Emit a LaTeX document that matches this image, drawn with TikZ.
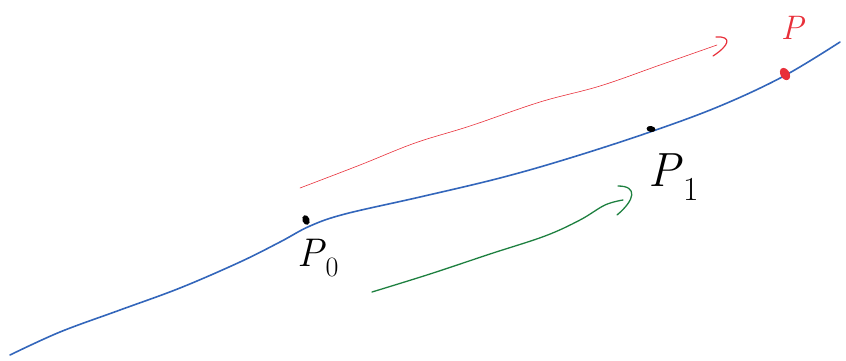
\documentclass[tikz,border=0pt]{standalone}
\usetikzlibrary{shapes.geometric}
\definecolor{penblue}{HTML}{3366BB}
\definecolor{penred}{HTML}{E8303A}
\definecolor{pengreen}{HTML}{1E8040}
\tikzset{
  curve/.style={line width=1.6pt, line cap=round, line join=round, color=penblue},
  redarrow/.style={line width=0.6pt, line cap=round, line join=round, color=penred},
  greenarrow/.style={line width=1.3pt, line cap=round, line join=round, color=pengreen},
  dotmark/.style={ellipse, fill=black, inner sep=0pt, minimum width=7pt, minimum height=10pt, rotate=20},
  lab/.style={inner sep=0pt}
}
\begin{document}
\begin{tikzpicture}[x=1pt,y=-1pt]
\useasboundingbox (0,0) rectangle (846,360);
% blue curve
\draw[curve] plot[smooth, tension=0.6] coordinates {(10,355) (60,332) (120,310) (180,288) (240,262) (280,242) (310,226) (345,214) (420,197) (500,178) (570,158) (650,132) (720,106) (784,76) (840,42)};
% red arrow
\coordinate (rs) at (300,188);
\coordinate (re) at (717,45);
\draw[redarrow] plot[smooth, tension=0.6] coordinates {(rs) (360,165) (415,143) (470,126) (540,102) (600,86) (660,65) (re)};
\coordinate (rh1) at (716,37);
\coordinate (rh2) at (713,56);
\draw[redarrow, line width=1.2pt] (rh1) .. controls (732,36) and (730,45) .. (rh2);
% green arrow
\coordinate (gs) at (372,292);
\coordinate (ge) at (623,200);
\draw[greenarrow] plot[smooth, tension=0.6] coordinates {(gs) (430,274) (490,254) (545,236) (580,220) (605,205) (ge)};
\coordinate (gh1) at (618,186);
\coordinate (gh2) at (617,215);
\draw[greenarrow] (gh1) .. controls (638,186) and (635,200) .. (gh2);
% points
\node[dotmark] (p0) at (306,220) {};
\node[dotmark, minimum width=6pt, minimum height=9pt, rotate=60] (p1) at (651,129) {};
\node[ellipse, fill=penred, inner sep=0pt, minimum width=9pt, minimum height=13pt, rotate=30] (p) at (785,74) {};
% labels
\node[lab, font=\fontsize{40}{40}\selectfont] (l0) at (318,258) {\textit{P}\textsubscript{0}};
\node[lab, font=\fontsize{48}{48}\selectfont] (l1) at (674,177) {\textit{P}\textsubscript{1}};
\node[lab, font=\fontsize{34}{34}\selectfont, text=penred] (lp) at (793,28) {\textit{P}};
\end{tikzpicture}
\end{document}
